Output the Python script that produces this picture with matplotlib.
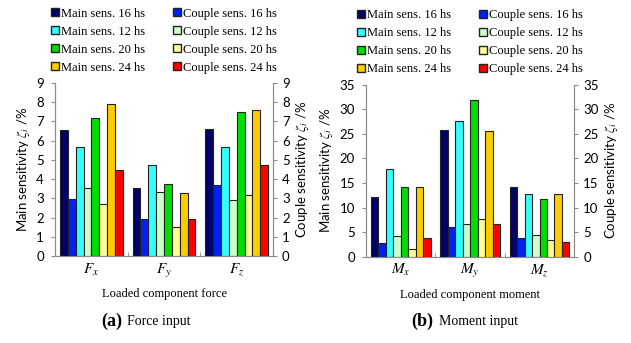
import numpy as np
import matplotlib
matplotlib.use('Agg')
import matplotlib.pyplot as plt
from matplotlib.patches import Patch

plt.rcParams['mathtext.fontset'] = 'stix'

# series order within each group
series = ['Main sens. 16 hs', 'Couple sens. 16 hs', 'Main sens. 12 hs', 'Couple sens. 12 hs',
          'Main sens. 20 hs', 'Couple sens. 20 hs', 'Main sens. 24 hs', 'Couple sens. 24 hs']
colors = ['#000066', '#0022ee', '#33ffff', '#ccffcc', '#00dd00', '#ffff99', '#ffcc00', '#ff0000']

force_cats = [r'$F_x$', r'$F_y$', r'$F_z$']
moment_cats = [r'$M_x$', r'$M_y$', r'$M_z$']

# rows = series, cols = Fx, Fy, Fz
force_vals = [
    [6.55, 3.55, 6.62],
    [2.95, 1.90, 3.70],
    [5.65, 4.72, 5.68],
    [3.55, 3.35, 2.90],
    [7.20, 3.75, 7.50],
    [2.70, 1.50, 3.18],
    [7.90, 3.30, 7.62],
    [4.45, 1.92, 4.72],
]
moment_vals = [
    [12.1, 25.7, 14.2],
    [2.7, 6.0, 3.9],
    [17.9, 27.6, 12.8],
    [4.2, 6.7, 4.5],
    [14.1, 31.9, 11.8],
    [1.5, 7.7, 3.3],
    [14.2, 25.5, 12.8],
    [3.8, 6.7, 3.0],
]

serif = 'Liberation Serif'
sans = 'Lato'
gray = '#8c8c8c'


def draw(ax, cats, vals, ymax, ystep, xlabel):
    x = np.arange(len(cats))
    w = 0.108
    for i in range(len(series)):
        ax.bar(x + (i - 3.5) * w, vals[i], w, color=colors[i], edgecolor='#222222', linewidth=0.8,
               label=series[i], zorder=3)
    ax.set_xlim(-0.5, len(cats) - 0.5)
    ax.set_ylim(0, ymax)
    ax.set_yticks(np.arange(0, ymax + 0.01, ystep))
    ax.set_xticks(x)
    ax.set_xticklabels(cats, fontsize=11)
    ax.set_xticks([0.5, 1.5], minor=True)
    ax.tick_params(axis='x', which='major', length=0, pad=4)
    ax.tick_params(axis='x', which='minor', length=3, direction='in', color=gray)
    ax.tick_params(axis='y', length=3, color=gray, labelsize=9.5, pad=5)
    for lab in ax.get_yticklabels():
        lab.set_family(sans)
    ax.spines['top'].set_visible(False)
    for s in ['left', 'right', 'bottom']:
        ax.spines[s].set_color(gray)
    ax.set_ylabel(r'Main sensitivity $\zeta_i$ /%', family=sans, fontsize=9.5, labelpad=3)
    ax.set_xlabel(xlabel, family=serif, fontsize=9, labelpad=6)

    ax2 = ax.twinx()
    ax2.set_ylim(0, ymax)
    ax2.set_yticks(np.arange(0, ymax + 0.01, ystep))
    ax2.tick_params(axis='y', length=3, color=gray, labelsize=9.5)
    for lab in ax2.get_yticklabels():
        lab.set_family(sans)
    ax2.spines['top'].set_visible(False)
    for s in ['left', 'right', 'bottom']:
        ax2.spines[s].set_color(gray)
    ax2.set_ylabel(r'Couple sensitivity $\zeta_i$ /%', family=sans, fontsize=9.5, labelpad=3)

    # legend: mains in first column, couples in second
    handles = [Patch(facecolor=colors[i], edgecolor='#222222', linewidth=1.0) for i in range(8)]
    order = [0, 2, 4, 6, 1, 3, 5, 7]
    ax.legend([handles[i] for i in order], [series[i] for i in order], ncol=2,
              loc='lower center', bbox_to_anchor=(0.5, 1.0), frameon=False,
              prop={'family': serif, 'size': 9}, handlelength=0.65, handleheight=0.65,
              handletextpad=0.15, columnspacing=2.2, labelspacing=0.48, borderaxespad=0.35)


fig = plt.figure(figsize=(6.31, 3.43), dpi=100)
ax1 = fig.add_axes([0.0872, 0.2536, 0.3455, 0.5044])
ax3 = fig.add_axes([0.580, 0.2516, 0.330, 0.5015])

draw(ax1, force_cats, force_vals, 9, 1, 'Loaded component force')
draw(ax3, moment_cats, moment_vals, 35, 5, 'Loaded component moment')

fig.text(0.194, 0.064, '(a)', family=serif, weight='bold', fontsize=13, ha='right', va='center')
fig.text(0.201, 0.064, 'Force input', family=serif, fontsize=10, ha='left', va='center')
fig.text(0.687, 0.064, '(b)', family=serif, weight='bold', fontsize=13, ha='right', va='center')
fig.text(0.696, 0.064, 'Moment input', family=serif, fontsize=10, ha='left', va='center')

fig.savefig('out.png', dpi=100)
